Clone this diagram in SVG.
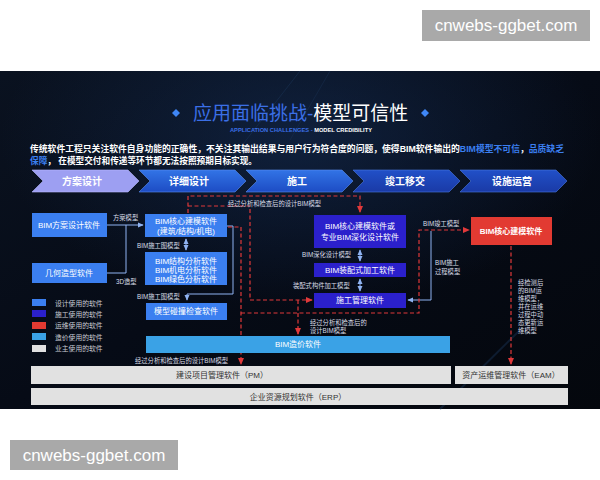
<svg xmlns="http://www.w3.org/2000/svg" width="600" height="480" viewBox="0 0 600 480">
<defs>
<style>
.t{font-family:"Liberation Sans","Noto Sans CJK SC",sans-serif;}
.bx{font-family:"Liberation Sans","Noto Sans CJK SC",sans-serif;font-size:8px;fill:#ffffff;text-anchor:middle;dominant-baseline:central;}
.lb{font-family:"Liberation Sans","Noto Sans CJK SC",sans-serif;font-size:6.3px;fill:#d8dce6;dominant-baseline:central;}
.lg{font-family:"Liberation Sans","Noto Sans CJK SC",sans-serif;font-size:6.8px;fill:#c9ccd4;dominant-baseline:central;}
.gr{font-family:"Liberation Sans","Noto Sans CJK SC",sans-serif;font-size:8px;fill:#333;text-anchor:middle;dominant-baseline:central;}
.ch{font-family:"Liberation Sans","Noto Sans CJK SC",sans-serif;font-size:10px;font-weight:bold;fill:#ffffff;text-anchor:middle;dominant-baseline:central;}
.des{fill:#3b7ff0;}
.con{fill:#2b20cc;}
.red{fill:#e23a32;}
.cost{fill:#3aa2e6;}
.own{fill:#e1e1e1;}
.bl{fill:none;stroke:#8fb3f2;stroke-width:1;}
.rd{fill:none;stroke:#e0393a;stroke-width:1.2;stroke-dasharray:4 2.5;}
</style>
<marker id="ab" viewBox="0 0 8 8" refX="7" refY="4" markerWidth="6" markerHeight="6" orient="auto-start-reverse"><path d="M0,0.5 L8,4 L0,7.5 Z" fill="#8fb3f2"/></marker>
<marker id="ar" viewBox="0 0 8 8" refX="7" refY="4" markerWidth="6" markerHeight="6" orient="auto"><path d="M0,0.5 L8,4 L0,7.5 Z" fill="#e0393a"/></marker>
<linearGradient id="bg" x1="0" y1="0" x2="1" y2="1">
<stop offset="0" stop-color="#0a1220"/><stop offset="0.5" stop-color="#060b16"/><stop offset="1" stop-color="#04070d"/>
</linearGradient>
<radialGradient id="glow" cx="0.5" cy="0.2" r="0.5">
<stop offset="0" stop-color="#16305a" stop-opacity="0.55"/><stop offset="1" stop-color="#16305a" stop-opacity="0"/>
</radialGradient>
<linearGradient id="cv" x1="0" y1="0" x2="0" y2="1">
<stop offset="0" stop-color="#3274e6"/><stop offset="1" stop-color="#1d4cc4"/>
</linearGradient>
<linearGradient id="cv2" x1="0" y1="0" x2="0" y2="1">
<stop offset="0" stop-color="#2150c8"/><stop offset="1" stop-color="#1a3aa6"/>
</linearGradient>
</defs>

<rect x="0" y="0" width="600" height="480" fill="#ffffff"/>
<g id="watermark-top">
<rect x="422" y="10" width="168" height="31" fill="#a9a9a9"/>
<text x="506" y="25.5" class="t" font-size="17" fill="#ffffff" text-anchor="middle" dominant-baseline="central">cnwebs-ggbet.com</text>
</g>

<g id="slide">
<rect x="0" y="71" width="600" height="338" fill="url(#bg)"/>
<rect x="0" y="71" width="600" height="338" fill="url(#glow)"/>
<path d="M300,71 L215,180" stroke="#1b3558" stroke-width="1" opacity="0.5"/>
<path d="M330,71 L290,140" stroke="#1b3558" stroke-width="1" opacity="0.4"/>
<path d="M440,409 L520,330" stroke="#173050" stroke-width="2" opacity="0.5"/>
</g>

<g id="title">
<path d="M176,109 L180,113 L176,117 L172,113 Z" fill="#3f86f5"/>
<path d="M425,109 L429,113 L425,117 L421,113 Z" fill="#3f86f5"/>
<text x="193" y="113" class="t" font-size="19" dominant-baseline="central"><tspan fill="#3b6fe6">应用面临挑战-</tspan><tspan fill="#ffffff">模型可信性</tspan></text>
<text x="230" y="130" class="t" font-size="5.3" font-weight="bold" dominant-baseline="central" textLength="142" lengthAdjust="spacingAndGlyphs"><tspan fill="#3b6fe6">APPLICATION CHALLENGES - </tspan><tspan fill="#ffffff">MODEL CREDIBILITY</tspan></text>
</g>

<g id="description" class="t" font-size="8.6" font-weight="bold" fill="#ffffff">
<text x="30" y="149" dominant-baseline="central" textLength="534" lengthAdjust="spacingAndGlyphs">传统软件工程只关注软件自身功能的正确性，不关注其输出结果与用户行为符合度的问题，使得BIM软件输出的<tspan fill="#3b7ff0">BIM模型不可信</tspan>，<tspan fill="#3b7ff0">品质缺乏</tspan></text>
<text x="30" y="161" dominant-baseline="central" textLength="227" lengthAdjust="spacingAndGlyphs"><tspan fill="#3b7ff0">保障</tspan>， 在模型交付和传递等环节都无法按照预期目标实现。</text>
</g>

<g id="phases">
<g id="phase-1"><path d="M32,170 H128 L139,181 L128,192 H32 L43,181 Z" fill="#9d9ff2" stroke="#b9bbff" stroke-width="0.6"/><text x="82" y="181" class="ch">方案设计</text></g>
<g id="phase-2"><path d="M139,170 H235 L246,181 L235,192 H139 L150,181 Z" fill="url(#cv)" stroke="#5d8ff0" stroke-width="0.6"/><text x="189" y="181" class="ch">详细设计</text></g>
<g id="phase-3"><path d="M246,170 H342 L353,181 L342,192 H246 L257,181 Z" fill="url(#cv)" stroke="#5d8ff0" stroke-width="0.6"/><text x="297" y="181" class="ch">施工</text></g>
<g id="phase-4"><path d="M353,170 H449 L460,181 L449,192 H353 L364,181 Z" fill="url(#cv2)" stroke="#4a78e0" stroke-width="0.6"/><text x="405" y="181" class="ch">竣工移交</text></g>
<g id="phase-5"><path d="M460,170 H556 L567,181 L556,192 H460 L471,181 Z" fill="url(#cv2)" stroke="#4a78e0" stroke-width="0.6"/><text x="512" y="181" class="ch">设施运营</text></g>
</g>

<g id="connectors">
<path class="bl" d="M107,225 H143" marker-end="url(#ab)"/>
<path class="bl" d="M107,273 H126 V225"/>
<path class="bl" d="M186,239 V250" marker-start="url(#ab)" marker-end="url(#ab)"/>
<path class="bl" d="M227,226 H233 V294 H187 V300" marker-end="url(#ab)"/>
<path class="bl" d="M360,250 V261" marker-start="url(#ab)" marker-end="url(#ab)"/>
<path class="bl" d="M360,279 V291" marker-start="url(#ab)" marker-end="url(#ab)"/>
<path class="bl" d="M431,231 V300 H408" marker-end="url(#ab)"/>
<path class="rd" d="M188,213 V196 H360 V212" marker-end="url(#ar)"/>
<path class="rd" d="M188,206 H250 V300 H312" marker-end="url(#ar)"/>
<path class="rd" d="M298,300 V334" marker-end="url(#ar)"/>
<path class="rd" d="M228,227 H241 V364" marker-end="url(#ar)"/>
<path class="rd" d="M241,313 H419 V230 H469" marker-end="url(#ar)"/>
<path class="rd" d="M511,246 V364" marker-end="url(#ar)"/>
<text class="lb" x="113" y="217">方案模型</text>
<text class="lb" x="116" y="281">3D造型</text>
<text class="lb" x="137" y="245">BIM施工图模型</text>
<text class="lb" x="137" y="296">BIM施工图模型</text>
<text class="lb" x="228" y="203" font-size="6">经过分析和检查后的设计BIM模型</text>
<text class="lb" x="302" y="254">BIM深化设计模型</text>
<text class="lb" x="293" y="285">装配式构件加工模型</text>
<text class="lb" x="423" y="223">BIM竣工模型</text>
<text class="lb" x="435" y="262">BIM施工</text>
<text class="lb" x="435" y="271">过程模型</text>
<text class="lb" x="310" y="322">经过分析和检查后的</text>
<text class="lb" x="310" y="330">设计BIM模型</text>
<text class="lb" x="135" y="360">经过分析和检查后的设计BIM模型</text>
<g class="lb" font-size="6.5">
<text x="518" y="282">经检测后</text>
<text x="518" y="290">的BIM运</text>
<text x="518" y="298">维模型，</text>
<text x="518" y="306">并在运维</text>
<text x="518" y="314">过程中动</text>
<text x="518" y="322">态更新运</text>
<text x="518" y="330">维模型</text>
</g>
</g>

<g id="n-scheme"><rect class="des" x="32" y="213" width="75" height="24"/><text class="bx" x="69" y="225">BIM方案设计软件</text></g>
<g id="n-geometry"><rect class="des" x="32" y="263" width="75" height="20"/><text class="bx" x="69" y="273">几何造型软件</text></g>
<g id="n-core-design"><rect class="des" x="145" y="214" width="82" height="23"/><text class="bx" x="186" y="221">BIM核心建模软件</text><text class="bx" x="186" y="231">(建筑/结构/机电)</text></g>
<g id="n-analysis"><rect class="des" x="145" y="252" width="82" height="33"/><text class="bx" x="186" y="261">BIM结构分析软件</text><text class="bx" x="186" y="270">BIM机电分析软件</text><text class="bx" x="186" y="279">BIM绿色分析软件</text></g>
<g id="n-collision"><rect class="des" x="146" y="303" width="81" height="17"/><text class="bx" x="186" y="311">模型碰撞检查软件</text></g>
<g id="n-core-construct"><rect class="con" x="314" y="215" width="92" height="33"/><text class="bx" x="360" y="226">BIM核心建模软件或</text><text class="bx" x="360" y="237">专业BIM深化设计软件</text></g>
<g id="n-prefab"><rect class="con" x="314" y="263" width="92" height="14"/><text class="bx" x="360" y="270">BIM装配式加工软件</text></g>
<g id="n-cm"><rect class="con" x="314" y="293" width="92" height="15"/><text class="bx" x="360" y="300">施工管理软件</text></g>
<g id="n-core-ops"><rect class="red" x="471" y="217" width="81" height="28"/><text class="bx" x="511" y="231" font-weight="bold">BIM核心建模软件</text></g>
<g id="n-cost"><rect class="cost" x="146" y="336" width="304" height="17"/><text class="bx" x="298" y="344">BIM造价软件</text></g>
<g id="n-pm"><rect class="own" x="31" y="366" width="420" height="18"/><text class="gr" x="222" y="375">建设项目管理软件（PM）</text></g>
<g id="n-eam"><rect class="own" x="455" y="366" width="113" height="18"/><text class="gr" x="511" y="375">资产运维管理软件（EAM）</text></g>
<g id="n-erp"><rect class="own" x="31" y="388" width="537" height="17"/><text class="gr" x="298" y="397">企业资源规划软件（ERP）</text></g>

<g id="legend">
<rect class="des" x="32" y="299" width="14" height="7"/><text class="lg" x="55" y="303">设计使用的软件</text>
<rect class="con" x="32" y="310" width="14" height="7"/><text class="lg" x="55" y="314">施工使用的软件</text>
<rect class="red" x="32" y="322" width="14" height="7"/><text class="lg" x="55" y="325">运维使用的软件</text>
<rect class="cost" x="32" y="333" width="14" height="7"/><text class="lg" x="55" y="337">造价使用的软件</text>
<rect class="own" x="32" y="345" width="14" height="7"/><text class="lg" x="55" y="348">业主使用的软件</text>
</g>

<g id="watermark-bottom">
<rect x="10" y="440" width="168" height="30" fill="#a9a9a9"/>
<text x="94" y="455" class="t" font-size="17" fill="#ffffff" text-anchor="middle" dominant-baseline="central">cnwebs-ggbet.com</text>
</g>
</svg>
